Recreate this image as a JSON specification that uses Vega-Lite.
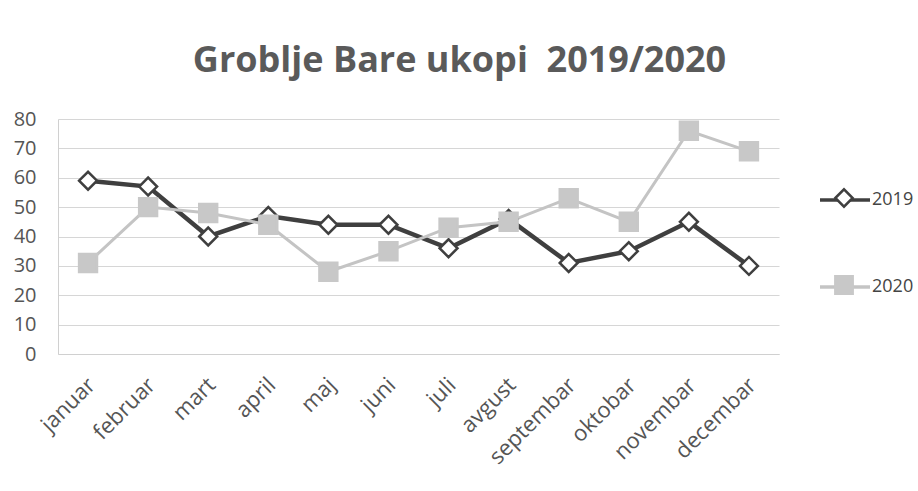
{
  "$schema": "https://vega.github.io/schema/vega-lite/v6.json",
  "autosize": {"type": "none"},
  "width": 721,
  "height": 235,
  "padding": {"left": 58, "top": 119, "right": 139, "bottom": 137},
  "background": "white",
  "title": {
    "text": "Groblje Bare ukopi\u00a0 2019/2020",
    "font": "Open Sans",
    "fontSize": 36,
    "fontWeight": "bold",
    "color": "#5a5a5a",
    "anchor": "middle",
    "dx": 41,
    "offset": 29
  },
  "config": {
    "view": {"stroke": null},
    "axis": {"labelFont": "Open Sans", "labelColor": "#555555"},
    "legend": {"labelFont": "Open Sans", "labelColor": "#444444", "padding": 0}
  },
  "data": {
    "values": [
      {"mjesec": "januar", "godina": "2019", "ukopi": 59},
      {"mjesec": "februar", "godina": "2019", "ukopi": 57},
      {"mjesec": "mart", "godina": "2019", "ukopi": 40},
      {"mjesec": "april", "godina": "2019", "ukopi": 47},
      {"mjesec": "maj", "godina": "2019", "ukopi": 44},
      {"mjesec": "juni", "godina": "2019", "ukopi": 44},
      {"mjesec": "juli", "godina": "2019", "ukopi": 36},
      {"mjesec": "avgust", "godina": "2019", "ukopi": 46},
      {"mjesec": "septembar", "godina": "2019", "ukopi": 31},
      {"mjesec": "oktobar", "godina": "2019", "ukopi": 35},
      {"mjesec": "novembar", "godina": "2019", "ukopi": 45},
      {"mjesec": "decembar", "godina": "2019", "ukopi": 30},
      {"mjesec": "januar", "godina": "2020", "ukopi": 31},
      {"mjesec": "februar", "godina": "2020", "ukopi": 50},
      {"mjesec": "mart", "godina": "2020", "ukopi": 48},
      {"mjesec": "april", "godina": "2020", "ukopi": 44},
      {"mjesec": "maj", "godina": "2020", "ukopi": 28},
      {"mjesec": "juni", "godina": "2020", "ukopi": 35},
      {"mjesec": "juli", "godina": "2020", "ukopi": 43},
      {"mjesec": "avgust", "godina": "2020", "ukopi": 45},
      {"mjesec": "septembar", "godina": "2020", "ukopi": 53},
      {"mjesec": "oktobar", "godina": "2020", "ukopi": 45},
      {"mjesec": "novembar", "godina": "2020", "ukopi": 76},
      {"mjesec": "decembar", "godina": "2020", "ukopi": 69}
    ]
  },
  "encoding": {
    "x": {
      "field": "mjesec",
      "type": "nominal",
      "sort": null,
      "scale": {"paddingInner": 0, "paddingOuter": 0.5},
      "axis": {
        "title": null,
        "labelAngle": -45,
        "labelFontSize": 22,
        "labelPadding": 20,
        "labelOffset": -4,
        "ticks": false,
        "domain": true,
        "domainColor": "#d0d0d0",
        "grid": false
      }
    },
    "y": {
      "field": "ukopi",
      "type": "quantitative",
      "scale": {"domain": [0, 80]},
      "axis": {
        "title": null,
        "values": [0, 10, 20, 30, 40, 50, 60, 70, 80],
        "labelFontSize": 20,
        "labelPadding": 22,
        "ticks": false,
        "domain": true,
        "domainColor": "#d0d0d0",
        "grid": true,
        "gridColor": "#d6d6d6",
        "gridWidth": 1.2
      }
    }
  },
  "layer": [
    {
      "transform": [{"filter": "datum.godina == '2019'"}],
      "mark": {"type": "line", "strokeWidth": 4.5},
      "encoding": {
        "color": {
          "field": "godina",
          "type": "nominal",
          "scale": {"domain": ["2019", "2020"], "range": ["#3f3f3f", "#c4c4c4"]},
          "legend": {
            "title": null,
            "orient": "none",
            "legendX": 760,
            "legendY": 54,
            "symbolType": "stroke",
            "symbolSize": 2500,
            "symbolStrokeWidth": 3.5,
            "labelFontSize": 18,
            "labelOffset": 0,
            "rowPadding": 51
          }
        }
      }
    },
    {
      "transform": [{"filter": "datum.godina == '2020'"}],
      "mark": {"type": "line", "strokeWidth": 3},
      "encoding": {
        "color": {"field": "godina", "type": "nominal"}
      }
    },
    {
      "mark": {"type": "point", "filled": false, "opacity": 1, "size": 320, "strokeWidth": 2.5},
      "encoding": {
        "shape": {
          "field": "godina",
          "type": "nominal",
          "scale": {"range": ["diamond", "square"]},
          "legend": {
            "title": null,
            "orient": "none",
            "legendX": 776,
            "legendY": 69,
            "symbolSize": 300,
            "symbolStrokeWidth": 2.5,
            "labelFontSize": 18,
            "labelExpr": "''",
            "rowPadding": 59
          }
        },
        "fill": {
          "field": "godina",
          "type": "nominal",
          "scale": {"range": ["#ffffff", "#c8c8c8"]}
        },
        "stroke": {
          "field": "godina",
          "type": "nominal",
          "scale": {"range": ["#3f3f3f", "#c8c8c8"]}
        }
      }
    }
  ]
}
